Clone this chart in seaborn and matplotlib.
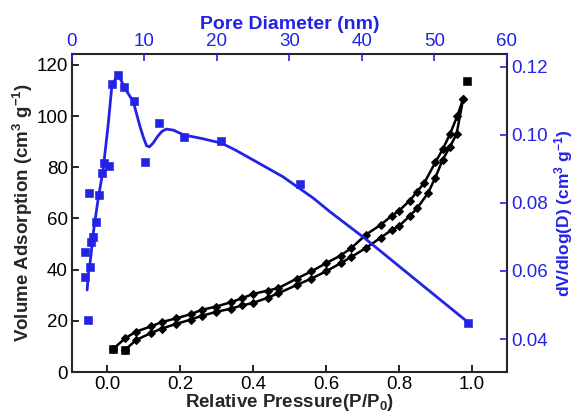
import seaborn as sns
import matplotlib.pyplot as plt
import pandas as pd

# N2 isotherm (black) - relative pressure vs volume adsorbed
des_p = [0.017, 0.05, 0.08, 0.12, 0.15, 0.19, 0.23, 0.26, 0.30, 0.34, 0.37, 0.40, 0.44, 0.47,
         0.52, 0.56, 0.60, 0.64, 0.67, 0.71, 0.75, 0.78, 0.80, 0.83, 0.85, 0.87, 0.90, 0.92,
         0.94, 0.96, 0.976]
des_v = [9, 13.2, 15.8, 17.8, 19.5, 21, 22.6, 24.3, 25.6, 27.3, 28.8, 30.5, 31.8, 32.8,
         36.5, 39.3, 42.5, 45.5, 48.5, 53.7, 57.5, 61, 63, 67, 70.5, 74, 82, 87,
         93, 100, 106.7]
ads_p = [0.049, 0.08, 0.12, 0.15, 0.19, 0.23, 0.26, 0.30, 0.34, 0.37, 0.40, 0.44, 0.47, 0.52,
         0.56, 0.60, 0.64, 0.67, 0.71, 0.75, 0.78, 0.80, 0.83, 0.85, 0.88, 0.90, 0.92, 0.94,
         0.958, 0.976]
ads_v = [8.6, 12.5, 15.2, 17, 18.8, 20.5, 22, 23.5, 24.8, 26, 27, 29, 30.8, 34,
         36.5, 39.3, 42.5, 45, 48.5, 52.5, 55.5, 57, 61, 64, 70, 76, 83, 88,
         93, 106.7]
end_p = [0.987]
end_v = [113.8]

# pore size distribution (blue) - measured points
pore_d = [1.8, 1.8, 2.25, 2.34, 2.48, 2.7, 2.94, 3.3, 3.77, 4.1, 4.4, 5.15, 5.47, 6.39,
          7.2, 8.6, 10.07, 12.0, 15.4, 20.6, 31.4, 54.7]
psd = [0.0657, 0.0583, 0.0456, 0.0830, 0.0611, 0.0686, 0.0701, 0.0745, 0.0824, 0.0887,
       0.0917, 0.0909, 0.1149, 0.1176, 0.1142, 0.1100, 0.0921, 0.1036, 0.0995, 0.0983,
       0.0856, 0.0448]

# smoothed fit through the distribution
fit_d = [2.1, 2.3, 2.5, 3.0, 3.6, 4.3, 5.0, 5.5, 6.0, 6.4, 6.8, 7.3, 8.46, 9.4, 9.9, 10.3,
         10.7, 11.2, 11.8, 12.4, 13.0, 14.0, 15.4, 18.0, 20.6, 22.5, 24.6, 29.1, 33.3, 35.6,
         40.4, 48.0, 54.7]
fit_v = [0.0544, 0.0600, 0.0623, 0.0720, 0.0809, 0.0897, 0.1030, 0.1142, 0.1165, 0.1172,
         0.1160, 0.1137, 0.1098, 0.1024, 0.0990, 0.0968, 0.0965, 0.0976, 0.0995, 0.1010,
         0.1017, 0.1014, 0.1000, 0.0989, 0.0976, 0.0956, 0.0931, 0.0877, 0.0814, 0.0774,
         0.0696, 0.0564, 0.0448]

sns.set_style('ticks')
plt.rcParams['font.family'] = ['Liberation Sans', 'DejaVu Sans']
plt.rcParams['mathtext.default'] = 'regular'
blue = '#2323e6'

fig = plt.figure(figsize=(5.8, 4.18), dpi=100)
ax = fig.add_axes([0.124, 0.110, 0.750, 0.761])

iso = pd.DataFrame({'p': des_p + ads_p, 'v': des_v + ads_v,
                    'branch': ['des'] * len(des_p) + ['ads'] * len(ads_p)})
for b in ['des', 'ads']:
    d = iso[iso.branch == b]
    sns.lineplot(x='p', y='v', data=d, ax=ax, sort=False, color='black', lw=1.8,
                 marker='D', markersize=4, markeredgecolor='black')
sns.scatterplot(x=end_p, y=end_v, ax=ax, marker='s', color='black', s=28, edgecolor='black')
sns.scatterplot(x=[des_p[0], ads_p[0]], y=[des_v[0], ads_v[0]], ax=ax, marker='s',
                color='black', s=28, edgecolor='black')

ax.set_xlim(-0.096, 1.096)
ax.set_ylim(0, 124.3)
ax.set_xticks([0.0, 0.2, 0.4, 0.6, 0.8, 1.0])
ax.set_yticks([0, 20, 40, 60, 80, 100, 120])
ax.set_xticklabels(['0.0', '0.2', '0.4', '0.6', '0.8', '1.0'])
ax.tick_params(direction='in', length=5, width=1.2, labelsize=13.5, colors='black', pad=3)
ax.set_xlabel('Relative Pressure(P/P$_0$)', fontsize=13.5, fontweight='bold', labelpad=-1)
ax.set_ylabel('Volume Adsorption (cm$^3$ g$^{-1}$)', fontsize=13.5, fontweight='bold',
              labelpad=1)
for s in ax.spines.values():
    s.set_linewidth(1.5)

# overlay axes for pore size distribution (top / right)
ax2 = fig.add_axes(ax.get_position(), frameon=False)
sns.lineplot(x=fit_d, y=fit_v, ax=ax2, sort=False, color=blue, lw=2)
sns.scatterplot(x=pore_d, y=psd, ax=ax2, marker='s', color=blue, s=30, edgecolor=blue)
ax2.set_xlim(0, 60)
ax2.set_ylim(0.0303, 0.1238)
ax2.xaxis.tick_top()
ax2.xaxis.set_label_position('top')
ax2.yaxis.tick_right()
ax2.yaxis.set_label_position('right')
ax2.set_xticks([0, 10, 20, 30, 40, 50, 60])
ax2.set_yticks([0.04, 0.06, 0.08, 0.10, 0.12])
ax2.set_yticklabels(['0.04', '0.06', '0.08', '0.10', '0.12'])
ax2.tick_params(direction='in', length=5, width=1.2, labelsize=13.5, colors=blue, pad=3)
ax2.set_xlabel('Pore Diameter (nm)', fontsize=14, fontweight='bold', color=blue, labelpad=3)
ax2.set_ylabel('dV/dlog(D) (cm$^3$ g$^{-1}$)', fontsize=12.5, fontweight='bold', color=blue,
               labelpad=3)
ax2.spines['top'].set_visible(True)
ax2.spines['right'].set_visible(True)
ax2.spines['top'].set_color(blue)
ax2.spines['right'].set_color(blue)
ax2.spines['top'].set_linewidth(1.5)
ax2.spines['right'].set_linewidth(1.5)

fig.savefig('out.png', dpi=100)
